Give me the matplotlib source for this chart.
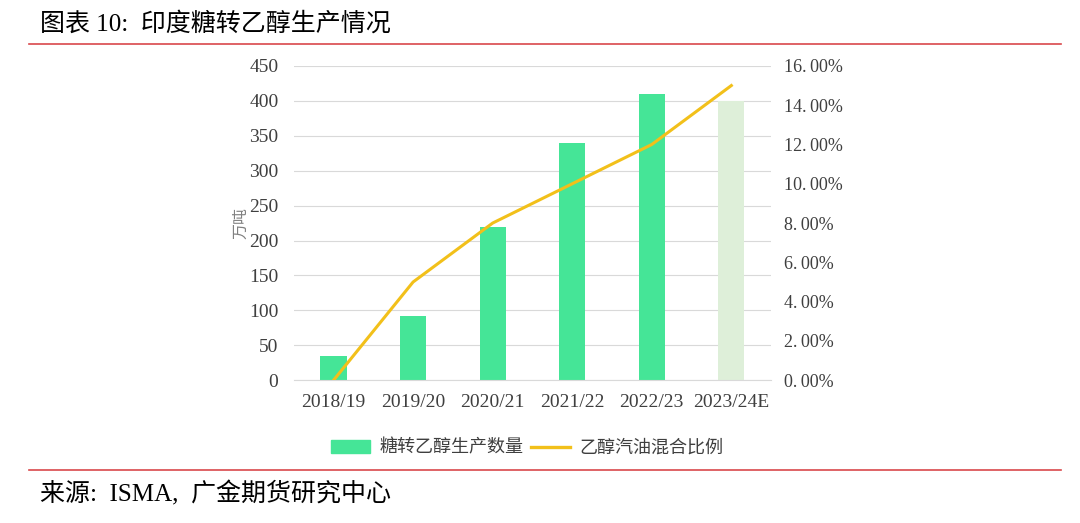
import matplotlib
matplotlib.use('Agg')
import matplotlib.pyplot as plt
from matplotlib.ticker import FuncFormatter
from matplotlib.patches import Patch
from matplotlib.lines import Line2D

# Data
seasons = ['2018/19', '2019/20', '2020/21', '2021/22', '2022/23', '2023/24E']
ethanol_output = [34, 92, 220, 340, 410, 400]          # 万吨
blend_ratio = [0.0, 5.0, 8.0, 10.0, 12.0, 15.0]         # %

BAR_COLOR = '#45E597'
BAR_EST_COLOR = '#DEEFD9'
LINE_COLOR = '#F2C01A'
TEXT_COLOR = '#3F3F3F'
RED = '#D9484B'
MIXED = ['Liberation Serif', 'Noto Sans CJK SC']

plt.rcParams['font.family'] = MIXED

fig = plt.figure(figsize=(10.8, 5.23), dpi=100, facecolor='white')
ax = fig.add_axes([0.272, 0.273, 0.442, 0.601])

x = list(range(len(seasons)))
colors = [BAR_COLOR] * (len(seasons) - 1) + [BAR_EST_COLOR]
ax.bar(x, ethanol_output, width=0.33, color=colors, zorder=2)
ax.set_ylim(0, 450)
ax.set_yticks(range(0, 451, 50))
ax.set_xlim(-0.5, len(seasons) - 0.5)
ax.set_xticks(x)
ax.set_xticklabels(seasons)
ax.grid(axis='y', color='#D9D9D9', linewidth=0.8, zorder=0)
for s in ax.spines.values():
    s.set_visible(False)
ax.spines['bottom'].set_visible(True)
ax.spines['bottom'].set_color('#D9D9D9')
ax.tick_params(axis='both', length=0, labelsize=14, colors=TEXT_COLOR)
ax.tick_params(axis='y', pad=11)
ax.tick_params(axis='x', pad=10)
ax.set_ylabel('万吨', fontsize=11.5, color='#808080', labelpad=0)

ax2 = ax.twinx()
ax2.plot(x, blend_ratio, color=LINE_COLOR, linewidth=2.2, zorder=3)
ax2.set_ylim(0, 16)
ax2.set_yticks(range(0, 17, 2))
ax2.yaxis.set_major_formatter(FuncFormatter(lambda v, p: f'{v:.2f}%'.replace('.', '.\u2009')))
for s in ax2.spines.values():
    s.set_visible(False)
ax2.tick_params(axis='y', length=0, labelsize=13, colors=TEXT_COLOR, pad=9)

# legend
handles = [Patch(color=BAR_COLOR, label='糖转乙醇生产数量'),
           Line2D([0], [0], color=LINE_COLOR, linewidth=2.4, label='乙醇汽油混合比例')]
fig.legend(handles=handles, loc='center', bbox_to_anchor=(0.488, 0.143), ncol=2,
           frameon=False, handlelength=2.2, handleheight=0.7,
           columnspacing=0.4, handletextpad=0.5, labelcolor=TEXT_COLOR,
           prop={'family': MIXED, 'size': 13})

# title, source and red rules
fig.text(0.037, 0.955, '图表 10:  印度糖转乙醇生产情况', fontsize=18, color='black',
         va='center', ha='left')
fig.add_artist(Line2D([0.027, 0.982], [0.916, 0.916], color=RED, linewidth=1.2))
fig.add_artist(Line2D([0.027, 0.982], [0.101, 0.101], color=RED, linewidth=1.2))
fig.text(0.037, 0.055, '来源:  ISMA,  广金期货研究中心', fontsize=18, color='black',
         va='center', ha='left')

fig.savefig('out.png', dpi=100, facecolor='white')
